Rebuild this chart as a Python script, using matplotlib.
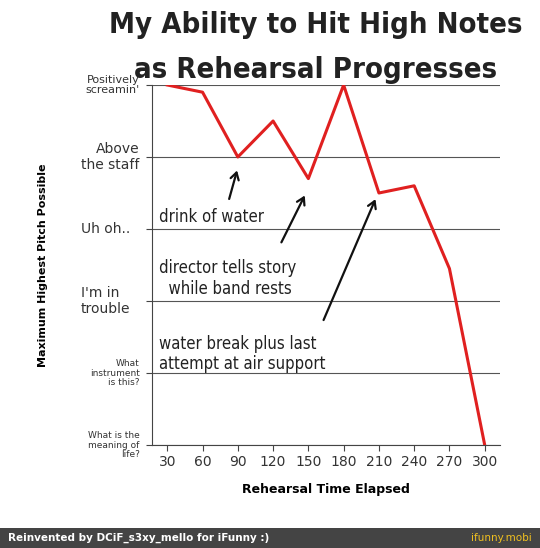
import matplotlib.pyplot as plt
import matplotlib.transforms as mtransforms

minutes = [30, 60, 90, 120, 150, 180, 210, 240, 270, 300]
pitch = [5.0, 4.9, 4.0, 4.5, 3.7, 5.0, 3.5, 3.6, 2.45, 0.0]
level_labels = ["What is the\nmeaning of\nlife?", "What\ninstrument\nis this?", "I'm in\ntrouble",
                "Uh oh..", "Above\nthe staff", "Positively\nscreamin'"]
level_sizes = [6.5, 6.5, 10, 10, 10, 8]
level_left = [False, False, True, True, False, False]

fig = plt.figure(figsize=(5.4, 5.48), dpi=100)
ax = fig.add_axes([152 / 540, 1 - 445 / 548, 348 / 540, 360 / 548])

ax.plot(minutes, pitch, color="#e02020", lw=2.2, zorder=3)
ax.set_xlim(17, 313)
ax.set_ylim(0, 5)
ax.set_xticks(minutes)
ax.set_xticklabels([str(m) for m in minutes], fontsize=10, color="#333333")
ax.set_yticks(range(6))
ax.set_yticklabels([])
trans = mtransforms.blended_transform_factory(ax.transAxes, ax.transData)
for i, (lab, s, left) in enumerate(zip(level_labels, level_sizes, level_left)):
    if left:
        ax.text(-0.205, i, lab, fontsize=s, color="#333333", ha="left", va="center",
                transform=trans, linespacing=1.1)
    else:
        ax.text(-0.035, i, lab, fontsize=s, color="#333333", ha="right", va="center",
                multialignment="right", transform=trans, linespacing=1.1)
ax.yaxis.grid(True, color="#555555", lw=0.8)
for s in ["top", "right"]:
    ax.spines[s].set_visible(False)
ax.spines["bottom"].set_color("#444444")
ax.spines["left"].set_color("#444444")
ax.tick_params(length=4, color="#444444")
ax.set_xlabel("Rehearsal Time Elapsed", fontsize=9, fontweight="bold", labelpad=10)
ax.set_ylabel("Maximum Highest Pitch Possible", fontsize=8, fontweight="bold")
ax.yaxis.set_label_coords(-0.3, 0.5)

txt = dict(fontsize=12, fontstretch="condensed", color="#222222", zorder=4)
arrow = dict(arrowstyle="->,head_width=0.3,head_length=0.5", lw=1.6, color="#111111")
ax.text(23, 3.1, "drink of water", **txt)
ax.text(23, 2.1, "director tells story\n  while band rests", **txt)
ax.text(23, 1.05, "water break plus last\nattempt at air support", **txt)
ax.annotate("", xy=(90, 3.85), xytext=(82, 3.38), arrowprops=arrow)
ax.annotate("", xy=(148, 3.5), xytext=(126, 2.78), arrowprops=arrow)
ax.annotate("", xy=(208, 3.45), xytext=(162, 1.7), arrowprops=arrow)

fig.text(0.585, 0.955, "My Ability to Hit High Notes", ha="center", va="center",
         fontsize=21, fontweight="bold", fontstretch="condensed", color="#222222")
fig.text(0.585, 0.872, "as Rehearsal Progresses", ha="center", va="center",
         fontsize=21, fontweight="bold", fontstretch="condensed", color="#222222")

bar = fig.add_axes([0, 0, 1, 20 / 548])
bar.set_facecolor("#444444")
bar.set_xticks([])
bar.set_yticks([])
for s in bar.spines.values():
    s.set_visible(False)
bar.text(0.015, 0.5, "Reinvented by DCiF_s3xy_mello for iFunny :)", color="white",
         fontsize=7.5, fontweight="bold", va="center", transform=bar.transAxes)
bar.text(0.985, 0.5, "ifunny.mobi", color="#f0c020", fontsize=7.5, ha="right",
         va="center", transform=bar.transAxes)

fig.savefig("out.png", dpi=100)
